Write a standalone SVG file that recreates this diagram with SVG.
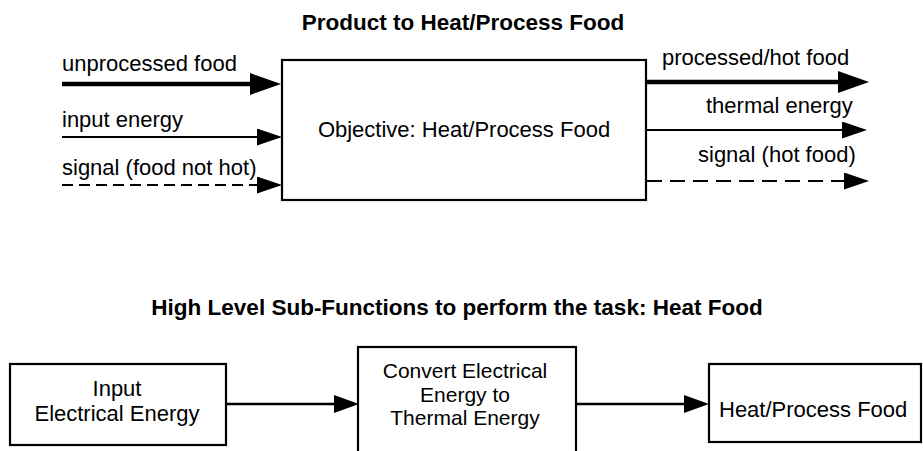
<svg xmlns="http://www.w3.org/2000/svg" width="923" height="451" viewBox="0 0 923 451">
<style>
text{font-family:"Liberation Sans",Arial,Helvetica,sans-serif;fill:#000}
.title{font-size:22.5px;font-weight:bold;text-anchor:middle}
.lbl{font-size:22px}
.small{font-size:21px}
.mid{text-anchor:middle}
.box{fill:#fff;stroke:#000;stroke-width:2.2}
.flow{stroke:#000;fill:none}
.thick{stroke-width:4.5}
.thin{stroke-width:2}
.med{stroke-width:2.6}
.dash1{stroke-width:2;stroke-dasharray:11 6}
.dash2{stroke-width:2;stroke-dasharray:15 8}
</style>
<defs>
<marker id="headL" markerUnits="userSpaceOnUse" markerWidth="32" markerHeight="23" refX="11" refY="11" orient="auto"><path d="M0,0 L31,11 L0,22 Z" fill="#000"/></marker>
<marker id="headM" markerUnits="userSpaceOnUse" markerWidth="26" markerHeight="18" refX="8" refY="8.5" orient="auto"><path d="M0,0 L25,8.5 L0,17 Z" fill="#000"/></marker>
<marker id="headB" markerUnits="userSpaceOnUse" markerWidth="26" markerHeight="19" refX="8" refY="9" orient="auto"><path d="M0,0 L25,9 L0,18 Z" fill="#000"/></marker>
</defs>
<rect width="923" height="451" fill="#fff"/>
<text class="title" x="463" y="30">Product to Heat/Process Food</text>
<text class="title" x="457" y="315">High Level Sub-Functions to perform the task: Heat Food</text>
<g id="objective">
<rect class="box" x="282" y="60" width="364" height="140"/>
<text class="lbl mid" x="464" y="137">Objective: Heat/Process Food</text>
</g>
<g id="input-electrical-energy">
<rect class="box" x="10" y="364" width="216" height="81"/>
<text class="lbl mid" x="117" y="396">Input</text>
<text class="lbl mid" x="117" y="421">Electrical Energy</text>
</g>
<g id="convert-energy">
<rect class="box" x="358" y="347" width="218" height="130"/>
<text class="small mid" x="465" y="378">Convert Electrical</text>
<text class="small mid" x="465" y="401.5">Energy to</text>
<text class="small mid" x="465" y="425">Thermal Energy</text>
</g>
<g id="heat-process-food">
<rect class="box" x="709" y="364" width="212" height="78"/>
<text class="lbl" x="719" y="417">Heat/Process Food</text>
</g>
<g id="connectors">
<line class="flow thick" x1="62" y1="84" x2="261" y2="84" marker-end="url(#headL)"/>
<line class="flow thin" x1="62" y1="137" x2="265" y2="137" marker-end="url(#headM)"/>
<line class="flow dash1" x1="62" y1="185" x2="265" y2="185" marker-end="url(#headM)"/>
<line class="flow thick" x1="647" y1="82" x2="849" y2="82" marker-end="url(#headL)"/>
<line class="flow thin" x1="647" y1="130" x2="850" y2="130" marker-end="url(#headM)"/>
<line class="flow dash2" x1="647" y1="181" x2="852" y2="181" marker-end="url(#headM)"/>
<line class="flow med" x1="227" y1="404" x2="342" y2="404" marker-end="url(#headB)"/>
<line class="flow med" x1="577" y1="404" x2="692" y2="404" marker-end="url(#headB)"/>
</g>
<g id="labels">
<text class="lbl" x="62" y="71">unprocessed food</text>
<text class="lbl" x="62" y="127">input energy</text>
<text class="lbl" x="62" y="175">signal (food not hot)</text>
<text class="lbl" x="662" y="65">processed/hot food</text>
<text class="lbl" x="706" y="113">thermal energy</text>
<text class="lbl" x="698" y="162">signal (hot food)</text>
</g>
</svg>
